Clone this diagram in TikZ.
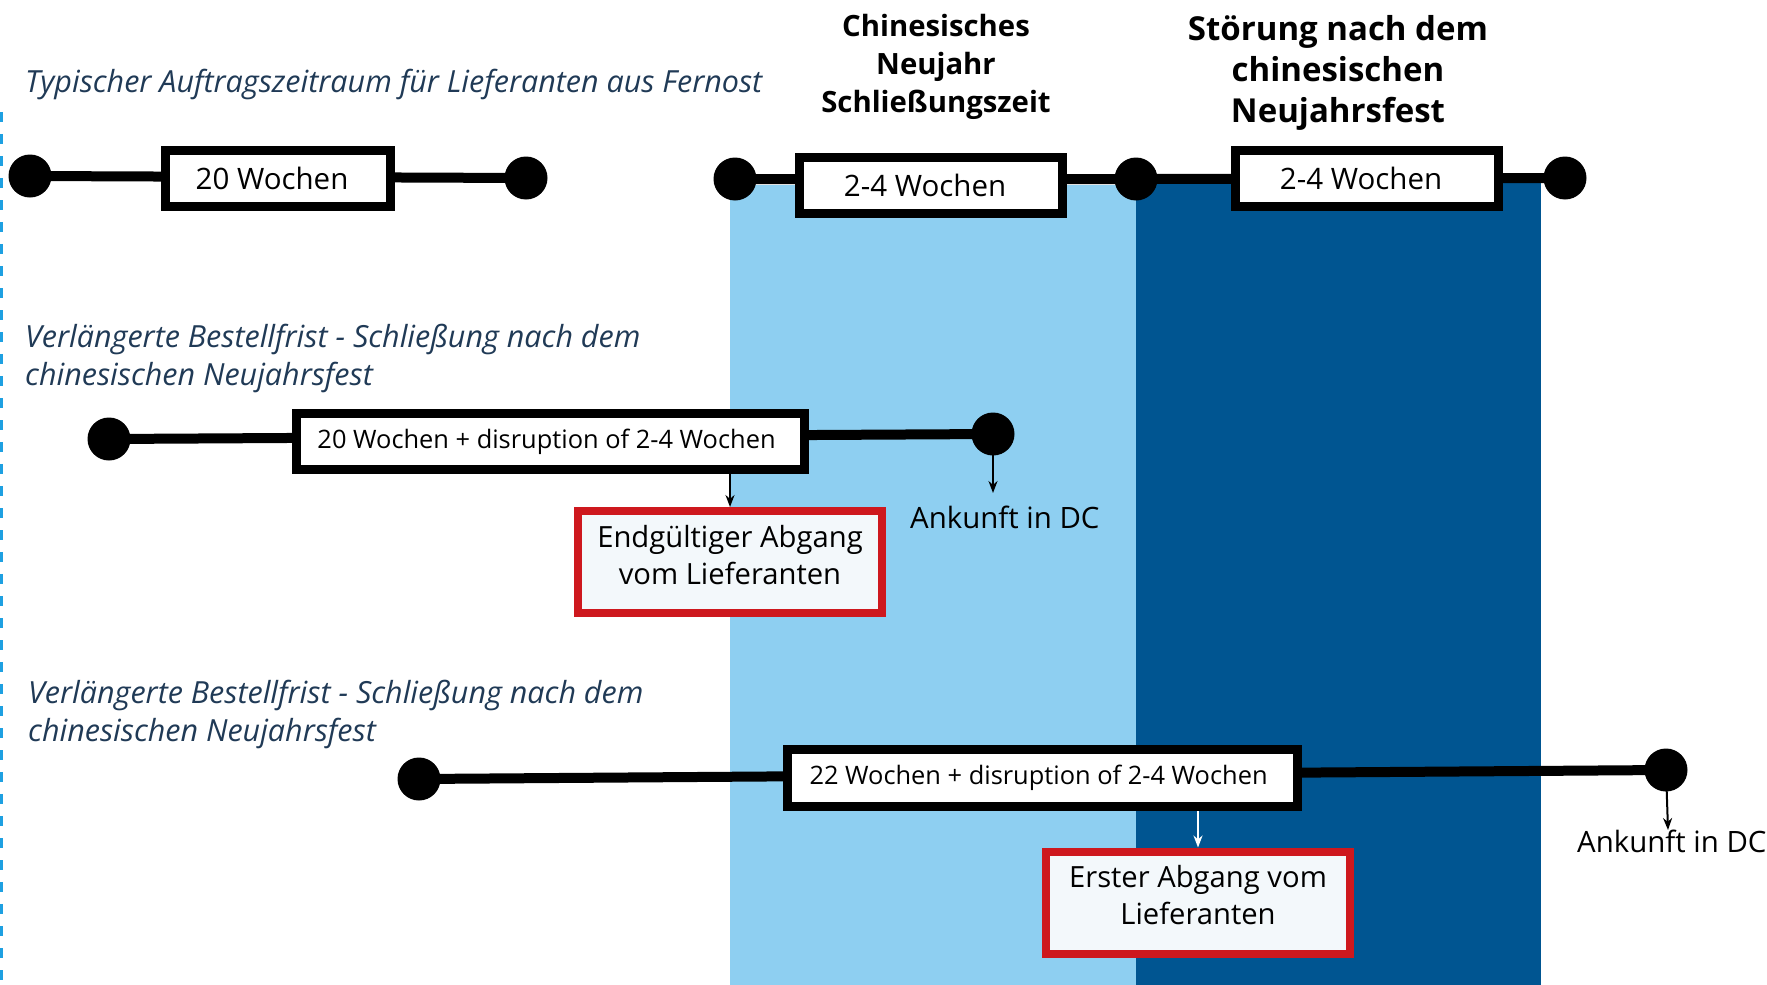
\documentclass[tikz,border=0pt]{standalone}
\usepackage{fontspec}
\setmainfont{Open Sans}
\usetikzlibrary{arrows.meta}
\definecolor{lightb}{RGB}{142,207,241}
\definecolor{darkb}{RGB}{0,85,145}
\definecolor{titlecol}{RGB}{32,58,86}
\definecolor{myred}{RGB}{206,24,30}
\definecolor{palefill}{RGB}{243,248,251}
\definecolor{dashcol}{RGB}{30,160,225}
\pgfdeclarelayer{bg}\pgfdeclarelayer{mid}\pgfsetlayers{bg,mid,main}
\begin{document}
\begin{tikzpicture}[x=1pt,y=-1pt,
  dot/.style={circle,fill=black,inner sep=0,minimum size=43},
  boxbase/.style={draw=black,line width=9,fill=white,inner sep=0},
  wbox/.style={boxbase,font=\fontsize{29.5}{34}\selectfont,execute at end node=\hspace*{12pt}},
  wboxs/.style={boxbase,font=\fontsize{25.4}{30}\selectfont,execute at end node=\hspace*{8pt}},
  rbox/.style={draw=myred,line width=8,fill=palefill,align=center,inner sep=0,minimum width=304,minimum height=102,text depth=14,font=\fontsize{29.2}{37}\selectfont},
  conn/.style={line width=10},
  arr/.style={line width=2,-{Stealth[length=12,width=9]}},
  ttl/.style={font=\itshape\fontsize{30.5}{38}\selectfont,text=titlecol,inner sep=0,align=left,anchor=base west},
  hd/.style={font=\bfseries\fontsize{29.3}{38}\selectfont,inner sep=0,align=center,anchor=base},
  lbl/.style={font=\fontsize{29.4}{34}\selectfont,inner sep=0,anchor=base west}]
\useasboundingbox (0,0) rectangle (1767,985);
\begin{pgfonlayer}{bg}
\fill[lightb] (730,185) rectangle (1136,985);
\fill[darkb] (1136,183) rectangle (1541,985);
\draw[dashcol,line width=3,dash pattern=on 10 off 12] (1.5,112) -- (1.5,985);
\end{pgfonlayer}
% headings
\node[hd] (h1) at (936,112) {Chinesisches\\Neujahr\\Schließungszeit};
\node[hd,font=\bfseries\fontsize{33}{41}\selectfont] (h2) at (1338,122.5) {Störung nach dem\\chinesischen\\Neujahrsfest};
% titles
\node[ttl] (t1) at (25,92) {Typischer Auftragszeitraum für Lieferanten aus Fernost};
\node[ttl] (t2) at (25,385) {Verlängerte Bestellfrist - Schließung nach dem\\chinesischen Neujahrsfest};
\node[ttl] (t3) at (28,741) {Verlängerte Bestellfrist - Schließung nach dem\\chinesischen Neujahrsfest};
% row 1
\node[dot] (d1a) at (30,176) {};
\node[dot] (d1b) at (526,178) {};
\node[wbox,minimum width=225,minimum height=56] (b1) at (278,178.5) {20 Wochen};
\node[dot] (d1c) at (735,179) {};
\node[dot] (d1d) at (1136,179) {};
\node[dot] (d1e) at (1565,178) {};
\node[wbox,minimum width=263,minimum height=56] (b2) at (931,185.5) {2-4 Wochen};
\node[wbox,minimum width=263,minimum height=56] (b3) at (1367,178.5) {2-4 Wochen};
% row 2
\node[dot] (d2a) at (109,439) {};
\node[dot] (d2b) at (993,434) {};
\node[wboxs,minimum width=508,minimum height=56] (b4) at (550.5,441.5) {20 Wochen + disruption of 2-4 Wochen};
\node[rbox] (r2) at (730,562) {Endgültiger Abgang\\vom Lieferanten};
\node[lbl] (a2) at (910,528) {Ankunft in DC};
\coordinate (a2tip) at (993,493);
% row 3
\node[dot] (d3a) at (419,779) {};
\node[dot] (d3b) at (1666,770) {};
\node[wboxs,minimum width=510,minimum height=57] (b5) at (1042.5,778) {22 Wochen + disruption of 2-4 Wochen};
\node[rbox,text depth=16] (r3) at (1198,902.5) {Erster Abgang vom\\Lieferanten};
\node[lbl] (a3) at (1577,852) {Ankunft in DC};
\coordinate (a3tip) at (1668,830);
\begin{pgfonlayer}{mid}
\draw[conn] (d1a.center) -- (d1b.center);
\draw[conn] (d1c.center) -- (d1d.center) -- (d1e.center);
\draw[conn] (d2a.center) -- (d2b.center);
\draw[conn] (d3a.center) -- (d3b.center);
\end{pgfonlayer}
\draw[arr] (r2.north |- b4.south) -- (r2.north);
\draw[arr,white] (r3.north |- b5.south) -- (r3.north);
\draw[arr] (d2b.center) -- (a2tip);
\draw[arr] (d3b.center) -- (a3tip);
\end{tikzpicture}
\end{document}
